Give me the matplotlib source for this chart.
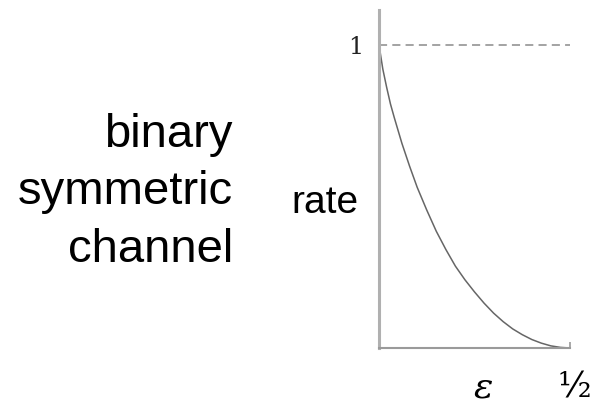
import matplotlib.pyplot as plt

plt.rcParams['font.family'] = ['Liberation Sans', 'DejaVu Sans']

# values
eps = [0.0, 0.01, 0.02, 0.03, 0.04, 0.06, 0.08, 0.10, 0.125, 0.15, 0.175, 0.20, 0.225,
       0.25, 0.275, 0.30, 0.325, 0.35, 0.375, 0.40, 0.425, 0.45, 0.475, 0.50]
rate = [1.0, 0.92, 0.86, 0.805, 0.76, 0.675, 0.60, 0.53, 0.455, 0.385, 0.325, 0.27, 0.225,
        0.185, 0.148, 0.115, 0.087, 0.063, 0.044, 0.028, 0.016, 0.007, 0.002, 0.0]
title_lines = ['binary', 'symmetric', 'channel']

W, H = 594, 407
fig = plt.figure(figsize=(W / 100, H / 100), dpi=100)


def fx(px):
    return px / W


def fy(py):
    return 1 - py / H


ax = fig.add_axes([fx(379), fy(348), fx(570) - fx(379), fy(10) - fy(348)])
ax.set_xlim(0, 0.5)
ax.set_ylim(0, 1.115)

ax.plot(eps, rate, color='#666666', linewidth=1.1, solid_capstyle='round')
dash, = ax.plot([0, 0.5], [1, 1], color='#8a8a8a', linewidth=1.1)
dash.set_dashes((5.3, 3.4))

for s in ['top', 'right']:
    ax.spines[s].set_visible(False)
ax.spines['left'].set_color('#b0b0b0')
ax.spines['left'].set_linewidth(2.2)
ax.spines['bottom'].set_color('#9a9a9a')
ax.spines['bottom'].set_linewidth(1.5)

ax.set_xticks([0.5])
ax.set_xticklabels([''])
ax.tick_params(axis='x', direction='in', length=4, width=1.2, color='#9a9a9a')
ax.set_yticks([1])
ax.set_yticklabels(['1'], family=['DejaVu Serif'], fontsize=17, color='#222222')
ax.tick_params(axis='y', length=0, pad=11)

# axis labels
fig.text(fx(359), fy(213), 'rate', fontsize=28, ha='right', va='baseline')
fig.text(fx(483), fy(397), 'ε', fontsize=26, style='italic',
         family=['DejaVu Serif'], ha='center', va='baseline')
fig.text(fx(574), fy(397), '½', fontsize=25,
         family=['DejaVu Serif'], ha='center', va='baseline')

# left caption
for line, base in zip(title_lines, [147, 204, 262]):
    fig.text(fx(233), fy(base), line, fontsize=34, ha='right', va='baseline')

fig.savefig('out.png', dpi=100)
